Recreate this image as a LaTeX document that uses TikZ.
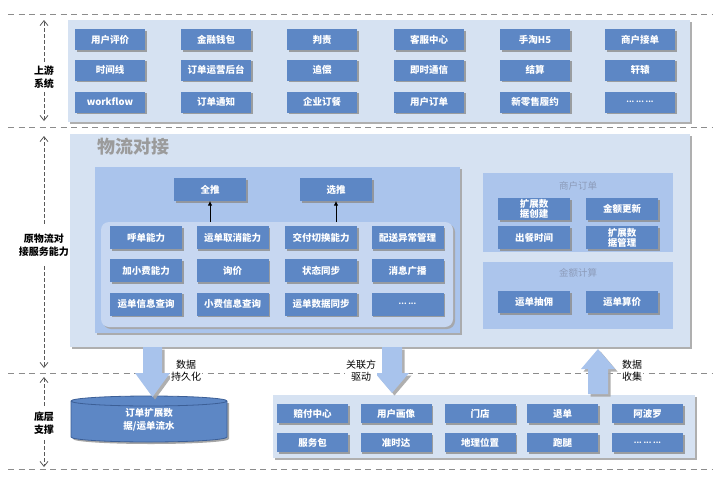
\documentclass[tikz,border=0pt]{standalone}
\usepackage{fontspec}
\setmainfont{Noto Sans CJK SC}
\usetikzlibrary{shadows,arrows.meta}
\definecolor{boxblue}{RGB}{93,135,197}
\definecolor{lightpanel}{RGB}{214,226,242}
\definecolor{innerpanel}{RGB}{170,196,236}
\definecolor{roundpanel}{RGB}{199,215,241}
\definecolor{rightpanel}{RGB}{172,197,236}
\definecolor{arrowblue}{RGB}{168,195,236}
\definecolor{titlegray}{RGB}{155,155,155}
\definecolor{subgray}{RGB}{140,155,185}
\definecolor{sepgray}{RGB}{140,140,140}
\definecolor{dbborder}{RGB}{60,95,150}
\newcommand{\mydthree}{{\fontsize{7.5}{9}\selectfont ...\ ...\ ...}}
\newcommand{\mydtwo}{{\fontsize{7.5}{9}\selectfont ...\ ...}}
\begin{document}
\begin{tikzpicture}[x=1pt,y=-1pt,
  every node/.style={inner sep=0pt,outer sep=0pt},
  shd/.style={drop shadow={shadow xshift=2pt,shadow yshift=-2pt,fill=black!35,opacity=0.9}},
  smallshd/.style={drop shadow={shadow xshift=1.5pt,shadow yshift=-1.5pt,fill=black!45,opacity=0.8}},
  bx/.style={fill=boxblue,text=white,font=\bfseries\fontsize{9.5}{10.5}\selectfont,
    minimum width=70pt,minimum height=21pt,align=center,smallshd},
  panel/.style={anchor=north west,shd},
  sepline/.style={draw=sepgray,line width=1pt,dash pattern=on 6pt off 4.5pt},
  side/.style={draw=black!65,line width=0.8pt,dash pattern=on 4pt off 2pt,
    -{Straight Barb[length=5pt,width=8pt]}},
  lab/.style={font=\bfseries\fontsize{10}{12.5}\selectfont,align=center},
  alab/.style={font=\fontsize{10}{12}\selectfont,align=center,fill=white,inner sep=1pt},
  blockarrow/.style={fill=arrowblue,drop shadow={shadow xshift=2.5pt,shadow yshift=-2.5pt,fill=black!35,opacity=0.9}},
  uparrow/.style={draw=black,line width=0.8pt,-{Latex[length=4.5pt,width=4.5pt]}},
  ]
\useasboundingbox (0,0) rectangle (720,479);

% separators
\draw[sepline] (8,14) -- (712,14);
\draw[sepline] (8,127) -- (712,127);
\draw[sepline] (8,373) -- (712,373);
\draw[sepline] (8,469) -- (712,469);

% ---------- upstream ----------
\node[panel,fill=lightpanel,minimum width=622pt,minimum height=102pt] (top) at (68,20) {};
\foreach \n/\x/\y/\t in {
  a1/110/39.5/用户评价, a2/216/39.5/金融钱包, a3/322/39.5/判责, a4/429/39.5/客服中心, a5/535/39.5/手淘H5, a6/640/39.5/商户接单,
  b1/110/70/时间线, b2/216/70/订单运营后台, b3/322/70/追偿, b4/429/70/即时通信, b5/535/70/结算, b6/640/70/轩辕,
  c1/110/102/workflow, c2/216/102/订单通知, c3/322/102/企业订餐, c4/429/102/用户订单, c5/535/102/新零售履约, c6/640/102/\mydthree}
  \node[bx] (\n) at (\x,\y) {\t};

% left labels
\node[lab] (lup) at (44,77) {上游\\系统};
\coordinate (lupT) at (44,20);
\coordinate (lupB) at (44,121);
\draw[side,shorten <=4pt] (lup.north) -- (lupT);
\draw[side,shorten <=4pt] (lup.south) -- (lupB);

\node[lab] (lmid) at (44,245) {原物流对\\接服务能力};
\coordinate (lmidT) at (44,136);
\coordinate (lmidB) at (44,368);
\draw[side,shorten <=10pt] (lmid.north) -- (lmidT);
\draw[side,shorten <=10pt] (lmid.south) -- (lmidB);

\node[lab] (lbot) at (44,423) {底层\\支撑};
\coordinate (lbotT) at (44,377);
\coordinate (lbotB) at (44,467);
\draw[side,shorten <=6pt] (lbot.north) -- (lbotT);
\draw[side,shorten <=6pt] (lbot.south) -- (lbotB);

% ---------- middle ----------
\node[panel,fill=lightpanel,minimum width=620pt,minimum height=213pt] (mid) at (70,134) {};
\node[font=\bfseries\fontsize{18}{20}\selectfont,text=titlegray,anchor=west] (midtitle) at (97,147) {物流对接};
\node[panel,fill=innerpanel,minimum width=365pt,minimum height=166pt] (inner) at (95,167) {};
\node[panel,fill=roundpanel,rounded corners=8pt,minimum width=352pt,minimum height=105pt] (rp) at (101,222) {};

\node[bx,minimum width=72pt,minimum height=23pt] (quan) at (210,189.5) {全推};
\node[bx,minimum width=72pt,minimum height=23pt] (xuan) at (336,189.5) {选推};
\draw[uparrow] (quan.south |- rp.north) -- (quan.south);
\draw[uparrow] (xuan.south |- rp.north) -- (xuan.south);

\foreach \n/\x/\y/\t in {
  g1/146/237.5/呼单能力, g2/232.5/237.5/运单取消能力, g3/321/237.5/交付切换能力, g4/407.5/237.5/配送异常管理,
  h1/146/270.5/加小费能力, h2/232.5/270.5/询价, h3/321/270.5/状态同步, h4/407.5/270.5/消息广播,
  k1/146/304/运单信息查询, k2/232.5/304/小费信息查询, k3/321/304/运单数据同步, k4/407.5/304/\mydtwo}
  \node[bx,minimum width=72pt,minimum height=23pt] (\n) at (\x,\y) {\t};

\node[anchor=north west,fill=rightpanel,minimum width=190pt,minimum height=79pt] (merch) at (483,173) {};
\node[anchor=north west,fill=rightpanel,minimum width=190pt,minimum height=67pt] (amt) at (483,262) {};
\node[font=\fontsize{9.5}{11}\selectfont,text=subgray] (merchtitle) at (578,186) {商户订单};
\node[font=\fontsize{9.5}{11}\selectfont,text=subgray] (amttitle) at (578,272.5) {金额计算};
\node[bx,minimum width=72pt,minimum height=22pt,font=\bfseries\fontsize{9.5}{10}\selectfont] (m1) at (534,209) {扩展数\\据创建};
\node[bx,minimum width=72pt,minimum height=22pt] (m2) at (622,209) {金额更新};
\node[bx,minimum width=72pt,minimum height=23pt] (m3) at (534,237.5) {出餐时间};
\node[bx,minimum width=72pt,minimum height=23pt,font=\bfseries\fontsize{9.5}{10}\selectfont] (m4) at (622,237.5) {扩展数\\据管理};
\node[bx,minimum width=72pt,minimum height=22pt] (n1) at (534,302) {运单抽佣};
\node[bx,minimum width=72pt,minimum height=22pt] (n2) at (622,302) {运单算价};

% ---------- bottom ----------
\node[panel,fill=lightpanel,minimum width=422pt,minimum height=63pt] (bot) at (273,395) {};
\foreach \n/\x/\y/\t in {
  p1/312.5/413.5/赔付中心, p2/396/413.5/用户画像, p3/480/413.5/门店, p4/562.5/413.5/退单, p5/647.5/413.5/阿波罗,
  q1/312.5/442.5/服务包, q2/396/442.5/准时达, q3/480/442.5/地理位置, q4/562.5/442.5/跑腿, q5/647.5/442.5/\mydthree}
  \node[bx,minimum width=71pt,minimum height=19pt] (\n) at (\x,\y) {\t};

% database cylinder
\fill[black!35] (73,403) -- (73,439) arc[start angle=180,end angle=360,x radius=78pt,y radius=5pt] -- (229,403) -- cycle;
\path[fill=boxblue,draw=dbborder,line width=0.8pt] (71,401) -- (71,437) arc[start angle=180,end angle=360,x radius=78pt,y radius=5pt] -- (227,401) arc[start angle=0,end angle=180,x radius=78pt,y radius=5pt] -- cycle;
\draw[draw=dbborder,line width=0.8pt] (227,401) arc[start angle=0,end angle=-180,x radius=78pt,y radius=5pt];
\node[font=\bfseries\fontsize{9.5}{13}\selectfont,text=white,align=center] (db) at (149,420) {订单扩展数\\据/运单流水};

% block arrows
\path[blockarrow] (143,347) -- (162,347) -- (162,373) -- (170,373) -- (152.5,397) -- (135,373) -- (143,373) -- cycle;
\path[blockarrow] (382,347) -- (402,347) -- (402,373) -- (409,373) -- (392,393) -- (375,373) -- (382,373) -- cycle;
\path[blockarrow] (588,394) -- (608,394) -- (608,369) -- (615,369) -- (598,349) -- (581,369) -- (588,369) -- cycle;

\node[alab] (l1) at (186,371) {数据\\持久化};
\node[alab] (l2) at (361,371) {关联方\\驱动};
\node[alab] (l3) at (632,371) {数据\\收集};
\end{tikzpicture}
\end{document}
